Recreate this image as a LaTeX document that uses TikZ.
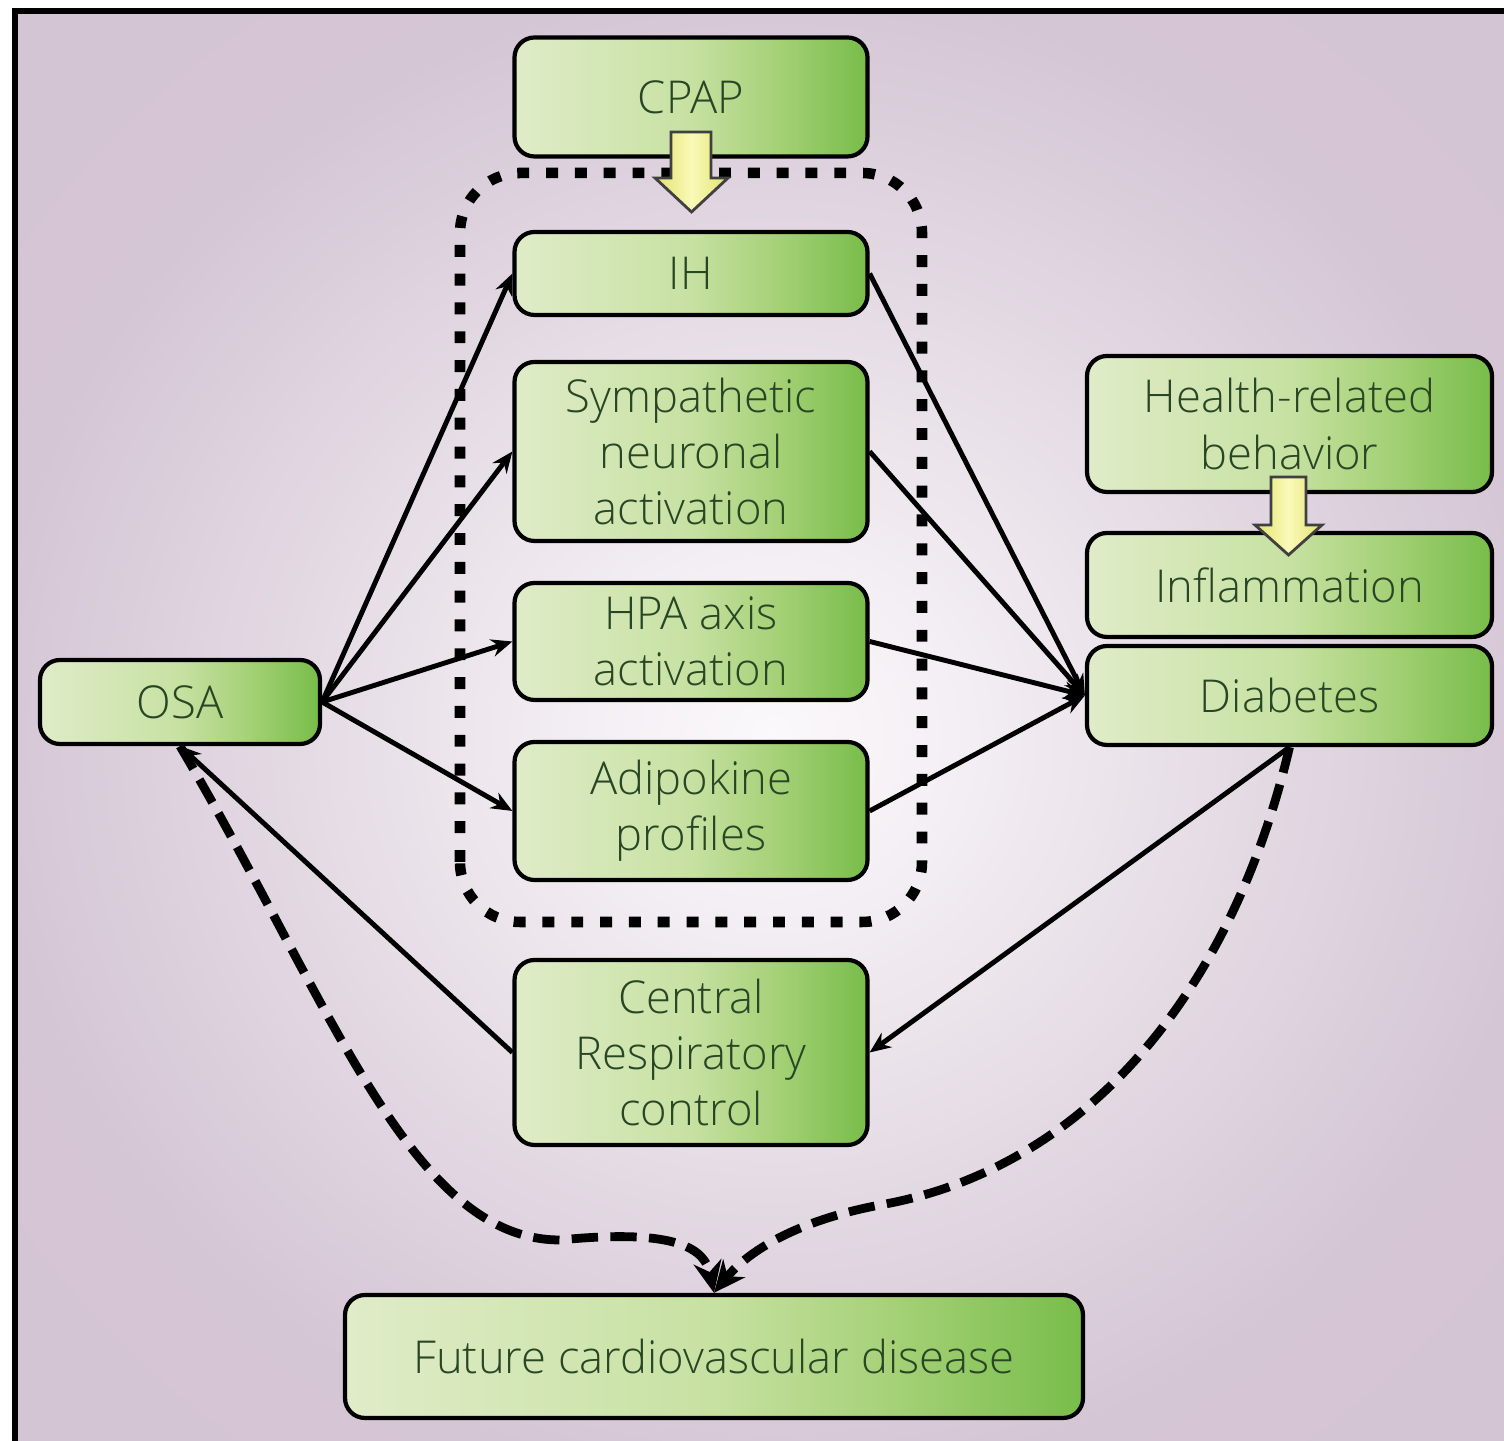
\documentclass[tikz,border=0pt]{standalone}
\usepackage{fontspec}
\setmainfont{Open Sans}[UprightFont=* Light]
\usetikzlibrary{arrows.meta}
\definecolor{textgreen}{RGB}{40,70,36}
\definecolor{arrowedge}{RGB}{226,226,110}
\definecolor{arrowmid}{RGB}{250,250,185}
\pgfdeclarehorizontalshading{boxgrad}{100bp}{rgb(0bp)=(0.878,0.925,0.784); rgb(25bp)=(0.878,0.925,0.784); rgb(50bp)=(0.780,0.882,0.635); rgb(62bp)=(0.650,0.820,0.470); rgb(75bp)=(0.470,0.740,0.290); rgb(100bp)=(0.470,0.740,0.290)}
\pgfdeclareradialshading{bgshade}{\pgfpoint{0bp}{0bp}}{rgb(0bp)=(0.985,0.975,0.985); rgb(7bp)=(0.950,0.930,0.950); rgb(17bp)=(0.885,0.845,0.885); rgb(26bp)=(0.835,0.775,0.835); rgb(50bp)=(0.825,0.765,0.825)}

\begin{document}
\begin{tikzpicture}[box/.style={shape=rectangle,rounded corners=0.2cm,draw=black,line width=1.2pt,shade,shading=boxgrad,align=center,text=textgreen,font=\fontsize{12.9}{16}\selectfont,inner sep=1pt},link/.style={-{Stealth[length=6pt,width=5pt]},draw=black,line width=1.4pt},dlink/.style={-{Stealth[length=9pt,width=8pt]},draw=black,line width=2.5pt,dash pattern=on 7.5pt off 3.5pt},yarrow/.style={draw=black!75,line width=0.8pt,left color=arrowedge,right color=arrowedge,middle color=arrowmid}]\useasboundingbox (0,0) rectangle (15.04,14.41);
\path[shade,shading=bgshade] (0.15,-0.2) rectangle (15.3,14.30);
\path[draw=black,line width=1.7pt] (0.15,-0.2) -- (0.15,14.30) -- (15.3,14.30);
\path[draw=black,line width=3pt,dash pattern=on 3.4pt off 4.8pt,rounded corners=0.6cm] (4.60,5.19) rectangle (9.22,12.68);
\node[box,minimum width=2.80cm,minimum height=0.84cm] (0) at (1.80,7.39) {OSA};
\node[box,minimum width=3.53cm,minimum height=1.19cm] (1) at (6.91,13.44) {CPAP};
\node[box,minimum width=3.53cm,minimum height=0.83cm] (2) at (6.91,11.675) {IH};
\node[box,minimum width=3.53cm,minimum height=1.79cm] (3) at (6.91,9.895) {Sympathetic\\neuronal\\activation};
\node[box,minimum width=3.53cm,minimum height=1.17cm] (4) at (6.91,7.995) {HPA axis\\activation};
\node[box,minimum width=3.53cm,minimum height=1.38cm] (5) at (6.91,6.30) {Adipokine\\profiles};
\node[box,minimum width=3.53cm,minimum height=1.85cm] (6) at (6.91,3.885) {Central\\Respiratory\\control};
\node[box,minimum width=7.38cm,minimum height=1.23cm] (7) at (7.14,0.845) {Future cardiovascular disease};
\node[box,minimum width=4.05cm,minimum height=1.36cm] (8) at (12.895,10.17) {Health-related\\behavior};
\node[box,minimum width=4.05cm,minimum height=1.04cm] (9) at (12.895,8.56) {Inflammation};
\node[box,minimum width=4.05cm,minimum height=0.99cm] (10) at (12.895,7.455) {Diabetes};

\path (0.east) edge[link] (2.west);
\path (0.east) edge[link] (3.west);
\path (0.east) edge[link] (4.west);
\path (0.east) edge[link] (5.west);
\path (2.east) edge[link] (10.west);
\path (3.east) edge[link] (10.west);
\path (4.east) edge[link] (10.west);
\path (5.east) edge[link] (10.west);
\path (10.south) edge[link] (6.east);
\path (6.west) edge[link] (0.south);
\path [dlink] (0.south) .. controls (3.30,4.41) and (4.10,2.01) .. (5.60,2.01) .. controls (6.80,2.13) and (7.05,1.91) .. (7.north);
\path [dlink] (10.south) .. controls (12.30,4.41) and (10.80,2.71) .. (8.80,2.36) .. controls (7.90,2.19) and (7.45,1.86) .. (7.north);
\path [yarrow] (6.71,13.09) -- (7.11,13.09) -- (7.11,12.63) -- (7.28,12.63) -- (6.915,12.29) -- (6.55,12.63) -- (6.71,12.63) -- cycle;
\path [yarrow] (12.71,9.64) -- (13.06,9.64) -- (13.06,9.16) -- (13.22,9.16) -- (12.885,8.86) -- (12.55,9.16) -- (12.71,9.16) -- cycle;
\end{tikzpicture}
\end{document}
